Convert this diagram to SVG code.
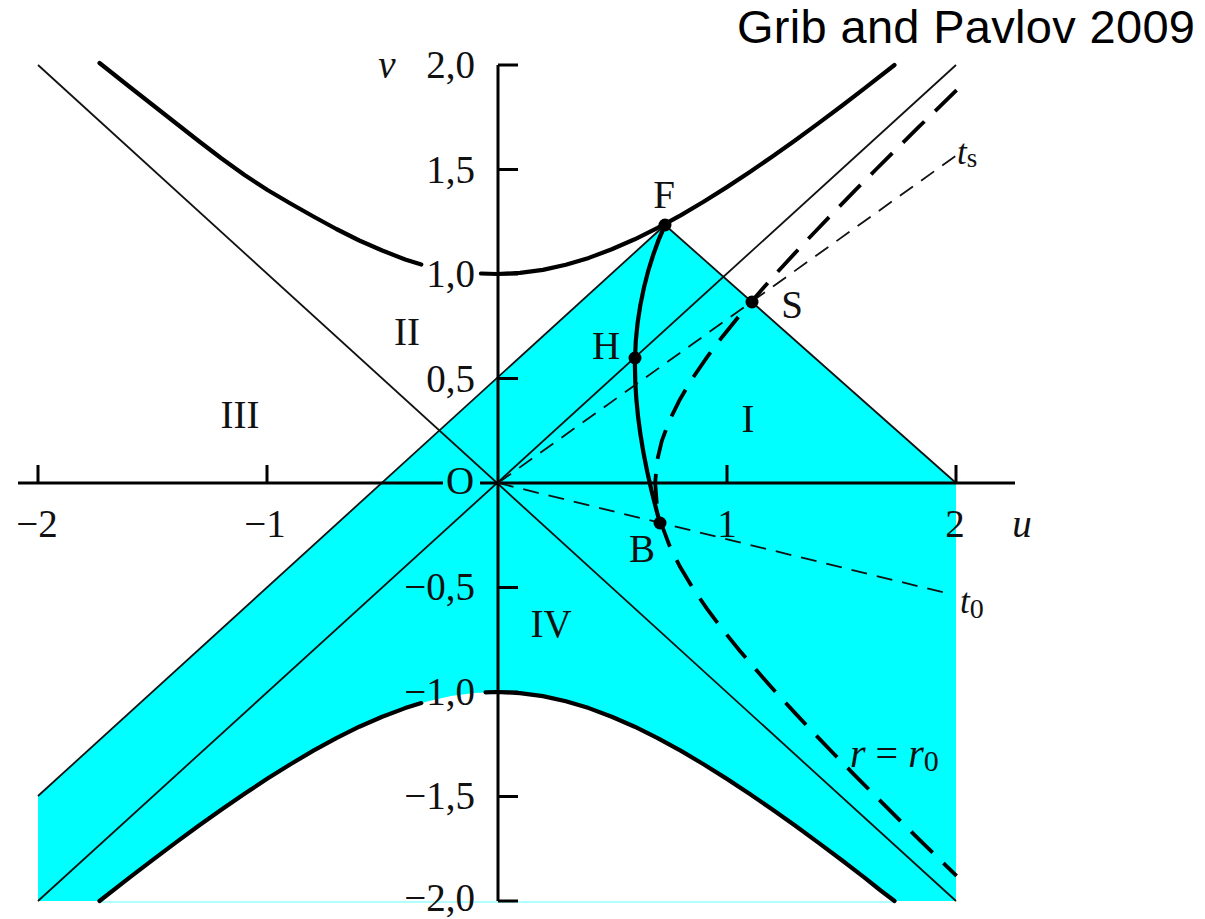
<svg xmlns="http://www.w3.org/2000/svg" width="1205" height="919" viewBox="0 0 1205 919">
<style>
.lbl{font-family:"Liberation Serif","Times New Roman",serif;font-size:39px;fill:#111}
.it{font-style:italic}
.thin{stroke:#111;stroke-width:1.8;fill:none}
.thick{stroke:#000;stroke-width:4.2;fill:none;stroke-linejoin:round;stroke-linecap:round}
.axis{stroke:#000;stroke-width:3;fill:none}
.sdash{stroke:#111;stroke-width:1.8;fill:none;stroke-dasharray:16 10}
.ldash{stroke:#000;stroke-width:3.8;fill:none;stroke-dasharray:30 15}
.dot{fill:#000}
</style>
<rect width="1205" height="919" fill="#fff"/>
<g id="region">
<path d="M38,796 L665,225 L956,483 L956,901 L894.5,901 L864.2,877.3 L841.25,859.8 L818.3,842.6 L795.35,825.8 L772.4,809.5 L749.45,793.7 L726.5,778.6 L703.55,764.2 L680.6,750.65 L657.65,738.1 L634.7,726.7 L611.75,716.7 L588.8,708.1 L565.85,701.2 L542.9,696.1 L519.95,693.05 L497,692 L474.05,693.05 L451.1,696.1 L428.15,701.2 L405.2,708.1 L382.25,716.7 L359.3,726.7 L336.35,738.1 L313.4,750.65 L290.45,764.2 L267.5,778.6 L244.55,793.7 L221.6,809.5 L198.65,825.8 L175.7,842.6 L152.75,859.8 L129.8,877.3 L99.5,901 L38,901 Z" fill="#00ffff"/>
<line x1="99.5" y1="902" x2="894.5" y2="902" stroke="#9ff" stroke-width="1.5"/>
</g>
<g id="lines">
<line class="thin" x1="38" y1="65" x2="956" y2="901"/>
<line class="thin" x1="38" y1="901" x2="956" y2="65"/>
<line class="thin" x1="38" y1="796" x2="665" y2="225"/>
<line class="thin" x1="665" y1="225" x2="956" y2="483"/>
</g>
<g id="axes">
<line class="axis" x1="18" y1="483" x2="443" y2="483"/>
<line class="axis" x1="480" y1="483" x2="1015" y2="483"/>
<line class="axis" x1="498" y1="65" x2="498" y2="901"/>
<path class="axis" d="M498,65 H518 M498,169.5 H518 M498,274 H518 M498,378.5 H518 M498,587.5 H518 M498,692 H518 M498,796.5 H518 M498,901 H518"/>
<path class="axis" d="M38,483 V465 M267,483 V465 M727,483 V465 M956,483 V465"/>
</g>
<g id="curves">
<polyline class="thick" points="99.5,63 129.8,87 152.75,105 175.7,123 198.65,141 221.6,158.5 244.55,175 267.5,190 290.45,203.5 313.4,216.5 336.35,229 359.3,240.5 382.25,250.5 405.2,259.5 421.3,264.5"/>
<polyline class="thick" points="480.9,273.5 497,274 519.95,272.95 542.9,269.9 565.85,264.8 588.8,257.9 611.75,249.3 634.7,239.3 657.65,227.9 680.6,215.35 703.55,201.8 726.5,187.4 749.45,172.3 772.4,156.5 795.35,140.2 818.3,123.4 841.25,106.2 864.2,88.7 894.5,65"/>
<polyline class="thick" points="99.5,901 129.8,877.3 152.75,859.8 175.7,842.6 198.65,825.8 221.6,809.5 244.55,793.7 267.5,778.6 290.45,764.2 313.4,750.65 336.35,738.1 359.3,726.7 382.25,716.7 405.2,708.1 421.3,703.1"/>
<polyline class="thick" points="485.5,692.3 497,692 519.95,693.05 542.9,696.1 565.85,701.2 588.8,708.1 611.75,716.7 634.7,726.7 657.65,738.1 680.6,750.65 703.55,764.2 726.5,778.6 749.45,793.7 772.4,809.5 795.35,825.8 818.3,842.6 841.25,859.8 864.2,877.3 880,890 894.5,901"/>
<path class="thick" stroke-width="3.6" d="M665,225 C648,262 636,310 635,358 C634,410 645,470 660,523"/>
<line class="sdash" x1="498" y1="483" x2="957" y2="155"/>
<line class="sdash" x1="498" y1="483" x2="950" y2="594"/>
<polyline class="ldash" points="956.6,90.1 918,127.7 896.8,148.6 875.9,169.5 855.1,190.4 834.7,211.3 814.6,232.2 794.9,253.1 775.7,274 757.2,294.9 739.3,315.8 722.4,336.7 706.7,357.6 692.4,378.5 679.9,399.4 669.5,420.3 661.7,441.2 656.8,462.1 655.2,483 656.8,503.9 661.7,524.8 669.5,545.7 679.9,566.6 692.4,587.5 706.7,608.4 722.4,629.3 739.3,650.2 757.2,671.1 775.7,692 794.9,712.9 814.6,733.8 834.7,754.7 855.1,775.6 875.9,796.5 896.8,817.4 918,838.3 956.6,875.9"/>
</g>
<g id="points">
<circle id="F" class="dot" cx="665" cy="225" r="6.5"/>
<circle id="H" class="dot" cx="635" cy="358" r="6.5"/>
<circle id="S" class="dot" cx="752" cy="302" r="6.5"/>
<circle id="B" class="dot" cx="660" cy="523" r="6.5"/>
</g>
<g id="labels" class="lbl">
<text x="475" y="78" text-anchor="end">2,0</text>
<text x="475" y="183" text-anchor="end">1,5</text>
<text x="475" y="287" text-anchor="end">1,0</text>
<text x="475" y="392" text-anchor="end">0,5</text>
<text x="475" y="600" text-anchor="end">−0,5</text>
<text x="475" y="705" text-anchor="end">−1,0</text>
<text x="475" y="809" text-anchor="end">−1,5</text>
<text x="475" y="911" text-anchor="end">−2,0</text>
<text x="37" y="537" text-anchor="middle">−2</text>
<text x="265" y="537" text-anchor="middle">−1</text>
<text x="727" y="537" text-anchor="middle">1</text>
<text x="955" y="537" text-anchor="middle">2</text>
<text x="1022" y="537" text-anchor="middle" class="it">u</text>
<text x="387" y="78" text-anchor="middle" class="it">v</text>
<text x="460" y="494" text-anchor="middle">O</text>
<text x="407" y="345" text-anchor="middle">II</text>
<text x="240" y="428" text-anchor="middle">III</text>
<text x="748" y="432" text-anchor="middle">I</text>
<text x="551" y="637" text-anchor="middle">IV</text>
<text x="664" y="208" text-anchor="middle">F</text>
<text x="606" y="359" text-anchor="middle">H</text>
<text x="792" y="318" text-anchor="middle">S</text>
<text x="642" y="562" text-anchor="middle">B</text>
<text x="957" y="164" font-size="35"><tspan class="it">t</tspan><tspan font-size="27" dy="3">s</tspan></text>
<text x="960" y="613" font-size="35"><tspan class="it">t</tspan><tspan font-size="28" dy="5">0</tspan></text>
<text x="850" y="767" font-size="40"><tspan class="it">r</tspan> = <tspan class="it">r</tspan><tspan font-size="30" dy="4">0</tspan></text>
</g>
<text id="title" x="1195" y="43" text-anchor="end" font-family="Liberation Sans, Arial, sans-serif" font-size="47" fill="#000" textLength="458">Grib and Pavlov 2009</text>
</svg>
